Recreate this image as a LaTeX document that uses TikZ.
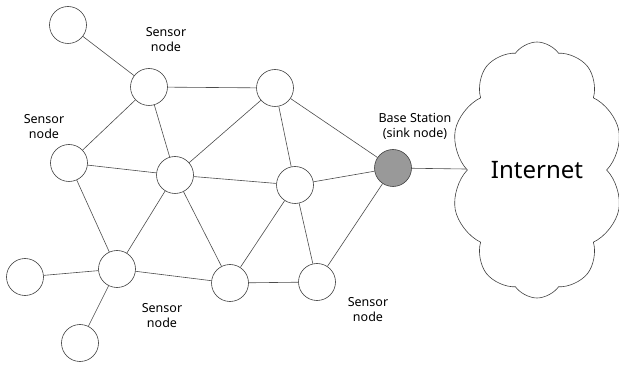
\documentclass[tikz,border=0pt]{standalone}
\usepackage{fontspec}
\setmainfont{Noto Sans}
\usetikzlibrary{shapes.symbols}

\begin{document}
\begin{tikzpicture}[x=1pt, y=-1pt,
        sensor/.style={circle, draw=black!75, line width=0.6pt, fill=white, minimum size=37pt, inner sep=0pt},
        sink/.style={sensor, fill=black!40},
        lbl/.style={align=center, font=\fontsize{12.5}{15}\selectfont, inner sep=0pt},
        link/.style={draw=black!70, line width=0.6pt}]
        \useasboundingbox (0,0) rectangle (619,366);

        \node[cloud, draw=black!75, line width=0.6pt, cloud puffs=10, cloud puff arc=110,
              cloud ignores aspect, minimum width=172pt, minimum height=256pt,
              font=\fontsize{24}{28}\selectfont] (inet) at (537,170) {Internet};

        \node[sensor] (n1) at (68,25) {};
        \node[sensor] (n2) at (149,87) {};
        \node[sensor] (n3) at (275,88) {};
        \node[sensor] (n4) at (69,163) {};
        \node[sensor] (n5) at (175,175) {};
        \node[sensor] (n6) at (295,185) {};
        \node[sink]   (bs) at (393,168) {};
        \node[sensor] (n8) at (117,269) {};
        \node[sensor] (n9) at (25,277) {};
        \node[sensor] (n10) at (230,283) {};
        \node[sensor] (n11) at (317,282) {};
        \node[sensor] (n12) at (80,343) {};

        \foreach \a/\b in {n1/n2, n2/n3, n2/n4, n2/n5, n3/n5, n3/n6, n3/bs,
                           n4/n5, n4/n8, n5/n6, n5/n8, n5/n10, n6/bs, n6/n10,
                           n6/n11, bs/n11, n8/n9, n8/n10, n8/n12, n10/n11, bs/inet}
        \draw[link] (\a) -- (\b);

        \node[lbl] (l1) at (166,40) {Sensor\\node};
        \node[lbl] (l2) at (44,127) {Sensor\\node};
        \node[lbl] (l3) at (162,316) {Sensor\\node};
        \node[lbl] (l4) at (368,310) {Sensor\\node};
        \node[lbl] (l5) at (415,126) {Base Station\\(sink node)};
      \end{tikzpicture}
\end{document}
